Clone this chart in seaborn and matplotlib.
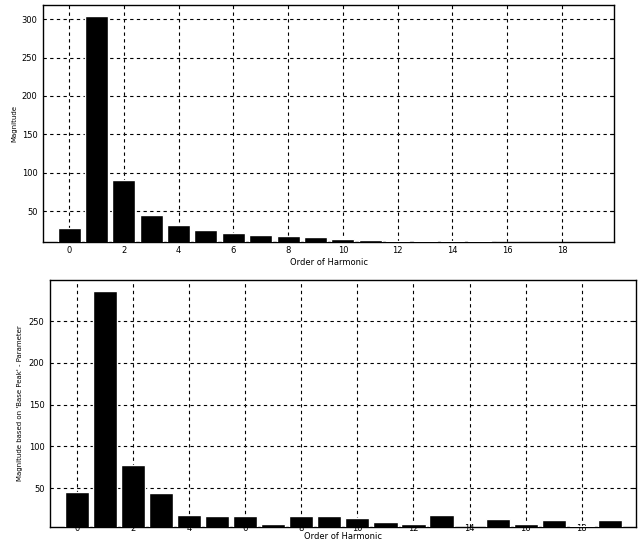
import matplotlib
matplotlib.use("Agg")
import matplotlib.pyplot as plt
import seaborn as sns

# harmonic orders and magnitudes
orders = list(range(20))
mag_top = [28.3, 304.3, 90.8, 45.2, 31.8, 24.8, 20.9, 18.3, 17.0, 15.5,
           14.0, 12.6, 11.3, 11.2, 11.2, 11.3, 9.0, 8.0, 8.0, 7.0]
mag_bottom = [45.6, 286.3, 77.9, 44.0, 18.0, 16.8, 16.8, 6.9, 16.8, 16.8,
              14.4, 9.6, 7.2, 18.0, 2.0, 13.2, 7.2, 12.0, 4.8, 12.0]

x_ticks = list(range(0, 20, 2))
top_yticks = [50, 100, 150, 200, 250, 300]
bottom_yticks = [50, 100, 150, 200, 250]

sns.set_style("white")
plt.rcParams['font.family'] = ['DejaVu Sans']
plt.rcParams['text.color'] = 'black'
plt.rcParams['axes.labelcolor'] = 'black'
plt.rcParams['xtick.color'] = 'black'
plt.rcParams['ytick.color'] = 'black'

fig = plt.figure(figsize=(6.42, 5.45), dpi=100)
ax1 = fig.add_axes([43 / 642, 1 - 242 / 545, (614 - 43) / 642, (242 - 5) / 545])
ax2 = fig.add_axes([50 / 642, 1 - 527 / 545, (636 - 50) / 642, (527 - 280) / 545])


def style(ax, yticks, ylim, ylabel, xpad, xlabelpad, ylabelpad):
    ax.set_ylim(*ylim)
    ax.set_xticks(x_ticks)
    ax.set_xticklabels([str(t) for t in x_ticks])
    ax.set_yticks(yticks)
    ax.set_yticklabels([str(t) for t in yticks])
    ax.grid(True, color="black", linestyle=(0, (3, 3)), linewidth=0.8)
    ax.set_axisbelow(True)
    ax.tick_params(direction="in", length=3, labelsize=6, width=0.8,
                   right=True, top=False, pad=4)
    ax.tick_params(axis="x", pad=xpad)
    for s in ax.spines.values():
        s.set_color("black")
        s.set_linewidth(1)
    ax.set_xlabel("Order of Harmonic", fontsize=6, labelpad=xlabelpad)
    ax.set_ylabel(ylabel, fontsize=5, labelpad=ylabelpad)


sns.barplot(x=orders, y=mag_top, native_scale=True, color="black",
            width=0.84, saturation=1, ax=ax1, zorder=3)
style(ax1, top_yticks, (9.6, 318.5), "Magnitude", 3, 2, 3)
ax1.set_xlim(-0.95, 19.9)

sns.barplot(x=orders, y=mag_bottom, native_scale=True, color="black",
            width=0.86, saturation=1, ax=ax2, zorder=3)
style(ax2, bottom_yticks, (3.3, 299.5),
      "Magnitude based on 'Base Peak' - Parameter", -2, -1, 4)
ax2.set_xlim(-0.97, 19.94)

fig.savefig("out.png", dpi=100)
